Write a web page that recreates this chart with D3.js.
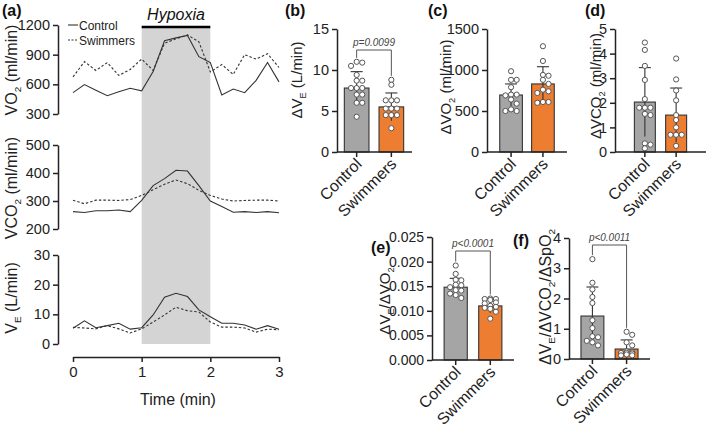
<!DOCTYPE html>
<html><head><meta charset="utf-8">
<script src="https://cdn.jsdelivr.net/npm/d3@7"></script>
<style>body{margin:0;background:#fff} svg{display:block;font-family:Arial,"Liberation Sans",Helvetica,sans-serif}</style>
</head><body><svg id="c" width="709" height="428"></svg>
<script>
// ---------- DATA ----------
const time = [0,0.167,0.333,0.5,0.667,0.833,1,1.167,1.333,1.5,1.667,1.833,2,2.167,2.333,2.5,2.667,2.833,3];
const timeTicks = [0,1,2,3];
const vo2Control  = [516,597,540,485,525,560,535,730,1040,1070,1095,880,820,493,553,515,640,820,625];
const vo2Swimmers = [675,830,740,820,690,750,855,740,1015,1060,1100,1030,725,800,700,900,855,910,770];
const vco2Control  = [262,259,265,265,268,262,302,355,380,410,407,355,300,280,260,262,259,262,258];
const vco2Swimmers = [303,290,303,303,302,305,320,340,360,375,362,338,320,307,300,302,303,303,300];
const veControl  = [5.3,7.8,5.5,6.2,7.0,5.0,5.5,9.8,15.8,17.1,16.0,11.5,9.2,7.0,7.0,6.4,5.0,6.2,5.0];
const veSwimmers = [5.6,5.4,5.1,6.2,5.1,3.7,5.1,7.4,9.8,12.4,11.2,10.8,7.4,5.7,5.7,5.4,4.0,5.0,4.8];
const vo2Ticks = [300,600,900,1200];
const vco2Ticks = [200,300,400,500];
const veTicks = [0,10,20,30];

const groups = ["Control","Swimmers"];
// (b) ΔVE
const dVEMean = [7.8,5.5], dVESD = [2.0,1.7];
const dVEControl  = [10.9,11.0,10.5,9.4,8.7,8.7,7.8,7.8,7.8,7.0,7.0,6.0,6.0,4.3];
const dVESwimmers = [8.8,8.2,6.3,6.3,6.3,5.3,5.3,5.3,4.5,4.5,4.5,2.9];
const dVETicks = [0,5,10,15];
// (c) ΔVO2
const dVO2Mean = [695,830], dVO2SD = [135,210];
const dVO2Control  = [985,880,880,790,700,700,690,640,590,520,500,500];
const dVO2Swimmers = [1290,1110,930,940,880,830,760,740,720,610,610,600];
const dVO2Ticks = [0,500,1000,1500];
// (d) ΔVCO2
const dVCO2Mean = [2.03,1.5], dVCO2SD = [1.4,1.1];
const dVCO2Control  = [4.45,4.15,3.5,2.93,2.15,1.8,1.8,1.8,1.55,1.5,0.35,0.3,0.15];
const dVCO2Swimmers = [3.8,2.95,2.5,2.1,1.5,1.3,1.0,0.7,0.7,0.7,0.25];
const dVCO2Ticks = [0,1,2,3,4,5];
// (e) ΔVE/ΔVO2
const ratioMean = [0.0148,0.0110], ratioSD = [0.0018,0.0014];
const ratioControl  = [0.0192,0.0175,0.0163,0.0162,0.0153,0.0152,0.0148,0.0142,0.0141,0.0135,0.0132,0.0126];
const ratioSwimmers = [0.0124,0.0124,0.0125,0.0122,0.0117,0.0115,0.0110,0.0106,0.0104,0.0108,0.0098,0.0084];
const ratioTicks = [0,0.005,0.010,0.015,0.020,0.025];
// (f) ΔVE/ΔVCO2/ΔSpO2
const sensMean = [1.42,0.33], sensSD = [0.96,0.30];
const sensControl  = [3.3,2.52,2.3,2.05,1.85,1.28,1.02,0.75,0.72,0.6,0.55,0.45];
const sensSwimmers = [0.9,0.8,0.55,0.45,0.25,0.22,0.2,0.2,0.18,0.15,0.12,0.12];
const sensTicks = [0,1,2,3,4];

// ---------- DRAW ----------
const svg = d3.select("#c");
const INK = "#222";
const COLORS = ["#a5a5a5","#ed7d31"];

function styleAxis(g, fs){
  g.selectAll("path,line").attr("stroke",INK).attr("stroke-width",1.5);
  g.selectAll("text").attr("fill",INK).attr("font-size",fs);
}
function richText(sel, parts, fs){
  const s = fs*0.28;
  parts.forEach(([t,sub],i)=>{
    const ts = sel.append("tspan").text(t).attr("font-size", sub? fs*0.62 : fs);
    if(sub) ts.attr("dy", s);
    else if(i>0 && parts[i-1][1]) ts.attr("dy", -s);
  });
}
function yTitle(x, y, parts, fs=16){
  const t = svg.append("text").attr("transform",`translate(${x},${y}) rotate(-90)`)
    .attr("text-anchor","middle").attr("fill",INK);
  richText(t, parts, fs);
}
function panelLabel(x,y,s){
  svg.append("text").attr("x",x).attr("y",y).attr("font-weight","bold").attr("font-size",16).attr("fill","#111").text(s);
}

// ----- panel (a) -----
const x = d3.scaleLinear().domain([0,3]).range([73,279]);
const yVO2 = d3.scaleLinear().domain([300,1200]).range([114,25]);
const yVCO2 = d3.scaleLinear().domain([200,500]).range([229,145]);
const yVE = d3.scaleLinear().domain([0,30]).range([344,255]);

svg.append("rect").attr("x",x(1)).attr("width",x(2)-x(1)).attr("y",28).attr("height",yVE(0)-28).attr("fill","#d4d4d4");
svg.append("line").attr("x1",x(1)).attr("x2",x(2)).attr("y1",27).attr("y2",27).attr("stroke","#000").attr("stroke-width",2.5);
svg.append("text").attr("x",(x(1)+x(2))/2).attr("y",20).attr("text-anchor","middle").attr("font-style","italic").attr("font-size",16).attr("fill","#111").text("Hypoxia");

function drawSeries(y, ctrl, swim){
  const line = d3.line().x((d,i)=>x(time[i])).y(d=>y(d));
  svg.append("path").datum(ctrl).attr("d",line).attr("fill","none").attr("stroke","#333").attr("stroke-width",1.1);
  svg.append("path").datum(swim).attr("d",line).attr("fill","none").attr("stroke","#333").attr("stroke-width",1.1).attr("stroke-dasharray","2.5,2");
}
drawSeries(yVO2, vo2Control, vo2Swimmers);
drawSeries(yVCO2, vco2Control, vco2Swimmers);
drawSeries(yVE, veControl, veSwimmers);

[[yVO2,vo2Ticks],[yVCO2,vco2Ticks],[yVE,veTicks]].forEach(([y,t])=>{
  const g = svg.append("g").attr("transform","translate(58,0)").call(d3.axisLeft(y).tickValues(t).tickFormat(d3.format("d")).tickSize(5).tickSizeOuter(0).tickPadding(3));
  styleAxis(g,14.5);
});
const gx = svg.append("g").attr("transform","translate(0,357)").call(d3.axisBottom(x).tickValues(timeTicks).tickFormat(d3.format("d")).tickSize(5).tickSizeOuter(0).tickPadding(4));
styleAxis(gx,15);
svg.append("text").attr("x",(x(0)+x(3))/2+2).attr("y",405).attr("text-anchor","middle").attr("font-size",16).attr("fill",INK).text("Time (min)");

yTitle(17,70,[["VO",0],["2",1],[" (ml/min)",0]]);
yTitle(17,188,[["VCO",0],["2",1],[" (ml/min)",0]]);
yTitle(17,298,[["V",0],["E",1],[" (L/min)",0]]);

svg.append("line").attr("x1",68).attr("x2",78).attr("y1",25).attr("y2",25).attr("stroke","#333").attr("stroke-width",1.1);
svg.append("line").attr("x1",68).attr("x2",78).attr("y1",40).attr("y2",40).attr("stroke","#333").attr("stroke-width",1.1).attr("stroke-dasharray","2,1.5");
svg.append("text").attr("x",79).attr("y",30).attr("font-size",12).attr("fill",INK).text("Control");
svg.append("text").attr("x",79).attr("y",45).attr("font-size",12).attr("fill",INK).text("Swimmers");
panelLabel(2,16,"(a)");

// ----- bar panels -----
function swarm(vals, y, cx, r, half){
  const pts = vals.map(v=>({v, y:y(v)})).sort((a,b)=>a.y-b.y);
  const placed=[];
  const step = 2*r+0.4;
  const offs=[0];
  for(let k=1;k*step<=half;k++){ offs.push(k*step, -k*step); }
  for(const p of pts){
    let best=null, bestD=-1;
    for(const off of offs){
      const xx = cx+off;
      const dmin = placed.length? d3.min(placed,q=>Math.hypot(q.x-xx,q.y-p.y)) : 99;
      if(dmin>=2*r-0.5){ best=xx; break; }
      if(dmin>bestD){ bestD=dmin; best=xx; }
    }
    p.x=best; placed.push(p);
  }
  return placed;
}

function barPanel(o){
  const y = d3.scaleLinear().domain([o.ticks[0], o.ticks[o.ticks.length-1]]).range([o.bottom,o.top]);
  const band = d3.scaleBand().domain(groups).range([o.x0, o.x1]).paddingInner(o.pin).paddingOuter(o.pout);
  const bw = band.bandwidth();
  groups.forEach((gname,i)=>{
    const cx = band(gname)+bw/2;
    svg.append("rect").attr("x",band(gname)).attr("width",bw).attr("y",y(o.mean[i])).attr("height",y(o.ticks[0])-y(o.mean[i]))
      .attr("fill",COLORS[i]).attr("stroke","#333").attr("stroke-width",1.1);
    const lo = Math.max(o.ticks[0], o.mean[i]-o.sd[i]);
    svg.append("line").attr("x1",cx).attr("x2",cx).attr("y1",y(o.mean[i]+o.sd[i])).attr("y2",y(lo)).attr("stroke","#333").attr("stroke-width",1.1);
    svg.append("line").attr("x1",cx-6).attr("x2",cx+6).attr("y1",y(o.mean[i]+o.sd[i])).attr("y2",y(o.mean[i]+o.sd[i])).attr("stroke","#333").attr("stroke-width",1.1);
    const pts = swarm(o.pts[i], y, cx, 2.6, bw/2-2);
    svg.append("g").selectAll("circle").data(pts).join("circle").attr("cx",d=>d.x).attr("cy",d=>d.y).attr("r",2.6)
      .attr("fill","#fff").attr("stroke","#555").attr("stroke-width",1);
    svg.append("line").attr("x1",cx).attr("x2",cx).attr("y1",o.bottom).attr("y2",o.bottom+5).attr("stroke",INK).attr("stroke-width",1.5);
    svg.append("text").attr("transform",`translate(${cx+6},${o.bottom+13}) rotate(-45)`).attr("text-anchor","end")
      .attr("font-size",16).attr("fill",INK).text(gname);
  });
  svg.append("line").attr("x1",o.ax).attr("x2",o.x1).attr("y1",o.bottom).attr("y2",o.bottom).attr("stroke",INK).attr("stroke-width",1.5);
  const g = svg.append("g").attr("transform",`translate(${o.ax},0)`).call(d3.axisLeft(y).tickValues(o.ticks).tickFormat(o.fmt||d3.format("d")).tickSize(5).tickSizeOuter(0).tickPadding(3));
  styleAxis(g,o.fs||14.5);
  yTitle(o.tx, o.ty, o.title, o.tfs||15);
  panelLabel(o.lx,o.ly,o.label);
  if(o.p){
    const c0 = band(groups[0])+bw/2, c1 = band(groups[1])+bw/2;
    const yb = o.p.yb;
    const e0 = y(d3.max(o.pts[0]))-4, e1 = y(d3.max(o.pts[1]))-4;
    svg.append("path").attr("d",`M${c0},${e0}V${yb}H${c1}V${e1}`).attr("fill","none").attr("stroke","#555").attr("stroke-width",1);
    svg.append("text").attr("x",(c0+c1)/2).attr("y",yb-4).attr("text-anchor","middle").attr("font-style","italic")
      .attr("font-size",10).attr("fill","#444").text(o.p.text);
  }
}

barPanel({ax:337,x0:336,x1:412,pin:0.29,pout:0.24,top:29,bottom:152,ticks:dVETicks,mean:dVEMean,sd:dVESD,pts:[dVEControl,dVESwimmers],
  tx:302,ty:80,title:[["\u0394V",0],["E",1],[" (L/min)",0]],lx:285,ly:16,label:"(b)",p:{yb:50,text:"p=0.0099"}});
barPanel({ax:487,x0:487,x1:567,pin:0.29,pout:0.4,top:29,bottom:152,ticks:dVO2Ticks,mean:dVO2Mean,sd:dVO2SD,pts:[dVO2Control,dVO2Swimmers],
  tx:451,ty:87,title:[["\u0394VO",0],["2",1],[" (ml/min)",0]],lx:428,ly:16,label:"(c)"});
barPanel({ax:615,x0:615,x1:706,pin:0.33,pout:0.62,top:29,bottom:152,ticks:dVCO2Ticks,mean:dVCO2Mean,sd:dVCO2SD,pts:[dVCO2Control,dVCO2Swimmers],
  tx:601,ty:86,title:[["\u0394VCO",0],["2",1],[" (ml/min)",0]],lx:585,ly:16,label:"(d)"});
barPanel({ax:432,x0:432,x1:514,pin:0.33,pout:0.35,top:237,bottom:360,ticks:ratioTicks,mean:ratioMean,sd:ratioSD,pts:[ratioControl,ratioSwimmers],fmt:d3.format(".3f"),fs:14,
  tx:390,ty:301,title:[["\u0394V",0],["E",1],["/\u0394VO",0],["2",1]],lx:371,ly:253,label:"(e)",p:{yb:251,text:"p<0.0001"}});
barPanel({ax:569,x0:569,x1:650,pin:0.33,pout:0.35,top:238,bottom:359,ticks:sensTicks,mean:sensMean,sd:sensSD,pts:[sensControl,sensSwimmers],
  tx:551,ty:297,tfs:16,title:[["\u0394V",0],["E",1],["/\u0394VCO",0],["2",1],["/\u0394SpO",0],["2",1]],lx:513,ly:246,label:"(f)",p:{yb:245,text:"p<0.0011"}});
</script></body></html>
